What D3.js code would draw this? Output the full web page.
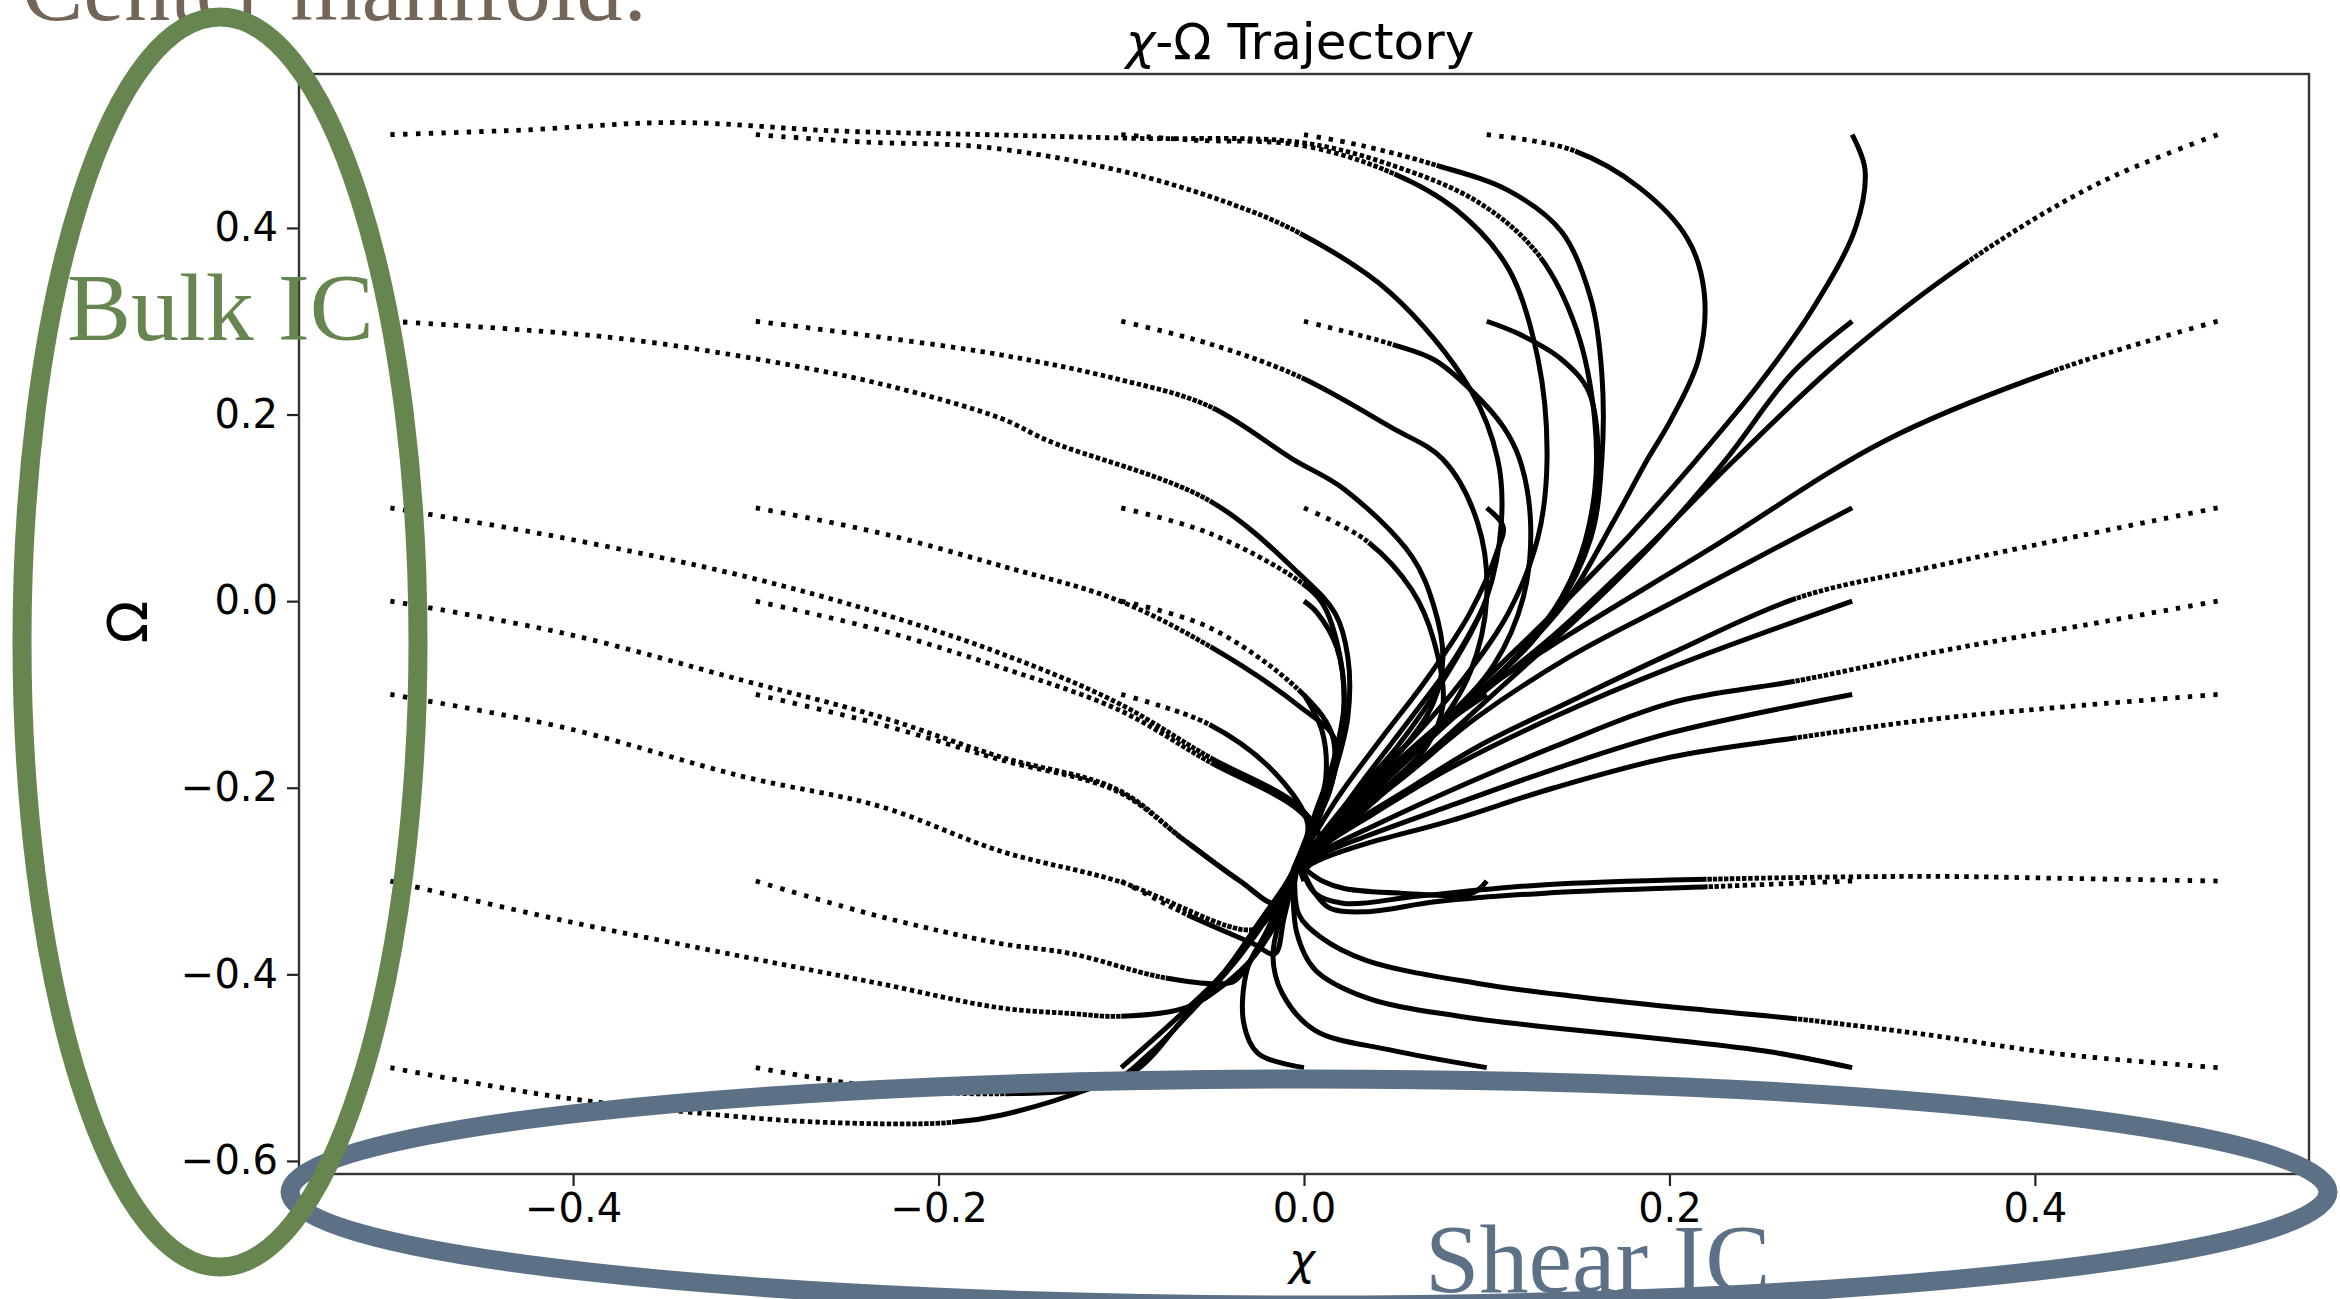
<!DOCTYPE html>
<html>
<head>
<meta charset="utf-8">
<script src="https://cdn.jsdelivr.net/npm/d3@7"></script>
<style>
  html, body { margin: 0; padding: 0; background: #fff; }
  svg { display: block; }
</style>
</head>
<body>
<svg id="chart" width="2340" height="1299"></svg>
<script>
// axis ticks
const xTicks = [-0.4, -0.2, 0.0, 0.2, 0.4];
const yTicks = [-0.6, -0.4, -0.2, 0.0, 0.2, 0.4];

// trajectories [chi, Omega], one list per starting Omega,
// each ordered by starting chi: -0.5, -0.3, -0.1, 0.0, 0.1, 0.3, 0.5
const omega050 = [
  [[-0.5,0.5],[-0.427,0.505],[-0.344,0.513],[-0.256,0.504],[-0.174,0.5],[-0.092,0.496],[-0.003,0.492],[0.047,0.468],[0.095,0.428],[0.128,0.372],[0.149,0.292],[0.159,0.196],[0.159,0.116],[0.149,0.036],[0.128,-0.036],[0.095,-0.1],[0.059,-0.164],[0.026,-0.22],[-0.003,-0.283]],
  [[-0.3,0.5],[-0.24,0.492],[-0.177,0.487],[-0.102,0.462],[-0.043,0.428],[-0.003,0.395],[0.047,0.331],[0.091,0.227],[0.106,0.152],[0.108,0.084],[0.1,0.004],[0.079,-0.076],[0.051,-0.156],[0.022,-0.22],[-0.003,-0.283]],
  [[-0.1,0.5],[-0.06,0.494],[-0.003,0.489],[0.047,0.46],[0.083,0.42],[0.112,0.356],[0.128,0.26],[0.133,0.152],[0.128,0.068],[0.112,-0.012],[0.087,-0.084],[0.059,-0.148],[0.026,-0.212],[-0.001,-0.278]],
  [[0,0.5],[0.03,0.489],[0.071,0.468],[0.112,0.44],[0.141,0.396],[0.157,0.324],[0.163,0.244],[0.163,0.152],[0.157,0.068],[0.137,-0.012],[0.104,-0.084],[0.067,-0.148],[0.03,-0.212],[0.002,-0.275]],
  [[0.1,0.5],[0.146,0.484],[0.183,0.444],[0.21,0.388],[0.219,0.331],[0.216,0.26],[0.201,0.195],[0.188,0.152],[0.169,0.084],[0.145,0.004],[0.112,-0.068],[0.075,-0.132],[0.042,-0.188],[0.014,-0.244],[-0.003,-0.282]],
  [[0.3,0.5],[0.307,0.463],[0.302,0.401],[0.278,0.312],[0.248,0.23],[0.215,0.152],[0.177,0.068],[0.137,-0.012],[0.095,-0.092],[0.055,-0.172],[0.022,-0.236],[0.002,-0.275]],
  [[0.5,0.5],[0.435,0.448],[0.365,0.366],[0.294,0.259],[0.236,0.152],[0.185,0.052],[0.137,-0.036],[0.087,-0.116],[0.047,-0.188],[0.018,-0.239],[0.002,-0.275]]
];
const omega030 = [
  [[-0.5,0.3],[-0.381,0.283],[-0.307,0.262],[-0.232,0.233],[-0.166,0.196],[-0.14,0.172],[-0.052,0.108],[-0.003,0.03],[0.017,-0.013],[0.024,-0.06],[0.024,-0.124],[0.016,-0.188],[0.006,-0.244],[-0.004,-0.285]],
  [[-0.3,0.3],[-0.232,0.283],[-0.166,0.264],[-0.102,0.238],[-0.052,0.209],[-0.006,0.152],[0.022,0.12],[0.059,0.048],[0.071,-0.005],[0.076,-0.06],[0.071,-0.108],[0.055,-0.156],[0.03,-0.204],[0.01,-0.252],[-0.004,-0.285]],
  [[-0.1,0.3],[-0.052,0.276],[-0.003,0.241],[0.047,0.187],[0.076,0.152],[0.095,0.084],[0.1,0.004],[0.091,-0.076],[0.071,-0.14],[0.042,-0.196],[0.014,-0.252],[-0.003,-0.285]],
  [[0,0.3],[0.047,0.276],[0.071,0.259],[0.091,0.227],[0.109,0.187],[0.118,0.152],[0.124,0.084],[0.12,0.004],[0.104,-0.068],[0.075,-0.132],[0.042,-0.188],[0.014,-0.244],[-0.003,-0.28]],
  [[0.1,0.3],[0.118,0.286],[0.141,0.259],[0.156,0.224],[0.161,0.152],[0.157,0.084],[0.141,0.004],[0.112,-0.068],[0.079,-0.124],[0.047,-0.18],[0.018,-0.236],[-0.003,-0.28]],
  [[0.3,0.3],[0.267,0.244],[0.231,0.152],[0.194,0.068],[0.153,-0.012],[0.108,-0.092],[0.063,-0.172],[0.026,-0.236],[0.004,-0.275]],
  [[0.5,0.3],[0.412,0.248],[0.318,0.172],[0.223,0.057],[0.145,-0.036],[0.095,-0.1],[0.051,-0.172],[0.02,-0.233],[0.002,-0.275]]
];
const omega010 = [
  [[-0.5,0.1],[-0.406,0.068],[-0.307,0.027],[-0.232,-0.013],[-0.166,-0.056],[-0.102,-0.109],[-0.052,-0.167],[-0.003,-0.22],[0.009,-0.257],[0.001,-0.288]],
  [[-0.3,0.1],[-0.232,0.073],[-0.166,0.038],[-0.102,0.001],[-0.052,-0.048],[-0.003,-0.112],[0.017,-0.149],[0.014,-0.204],[0.002,-0.252],[-0.006,-0.288]],
  [[-0.1,0.1],[-0.052,0.073],[-0.003,0.022],[0.01,-0.002],[0.018,-0.044],[0.022,-0.108],[0.016,-0.172],[0.006,-0.228],[-0.004,-0.285]],
  [[0,0.1],[0.034,0.065],[0.059,0.012],[0.071,-0.042],[0.076,-0.112],[0.067,-0.156],[0.042,-0.204],[0.014,-0.252],[-0.003,-0.282]],
  [[0.1,0.1],[0.109,0.08],[0.106,0.055],[0.091,-0.012],[0.067,-0.084],[0.042,-0.148],[0.018,-0.212],[-0.003,-0.28]],
  [[0.3,0.1],[0.201,-0.002],[0.145,-0.06],[0.095,-0.124],[0.055,-0.188],[0.022,-0.239],[0.004,-0.275]],
  [[0.5,0.1],[0.412,0.065],[0.342,0.036],[0.271,0.004],[0.201,-0.056],[0.145,-0.108],[0.095,-0.156],[0.055,-0.204],[0.022,-0.244],[0.004,-0.272]]
];
const omega000 = [
  [[-0.5,0],[-0.406,-0.034],[-0.307,-0.085],[-0.232,-0.124],[-0.166,-0.167],[-0.102,-0.202],[-0.065,-0.257],[-0.035,-0.3],[-0.015,-0.324],[-0.005,-0.292]],
  [[-0.3,0],[-0.232,-0.031],[-0.166,-0.071],[-0.102,-0.116],[-0.052,-0.172],[-0.003,-0.224],[0.009,-0.257],[-0.001,-0.288]],
  [[-0.1,0],[-0.052,-0.028],[-0.003,-0.095],[0.015,-0.141],[0.016,-0.188],[0.007,-0.236],[-0.004,-0.285]],
  [[0,0],[0.007,-0.012],[0.018,-0.05],[0.022,-0.108],[0.018,-0.164],[0.008,-0.221],[-0.002,-0.271],[-0.005,-0.3]],
  [[0.1,0],[0.083,-0.06],[0.059,-0.124],[0.034,-0.188],[0.01,-0.252],[-0.003,-0.284]],
  [[0.3,0],[0.201,-0.071],[0.137,-0.124],[0.079,-0.18],[0.038,-0.228],[0.01,-0.263],[0,-0.282]],
  [[0.5,0],[0.412,-0.031],[0.342,-0.056],[0.271,-0.085],[0.201,-0.109],[0.137,-0.156],[0.079,-0.204],[0.038,-0.241],[0.01,-0.268],[0,-0.283]]
];
const omegaM010 = [
  [[-0.5,-0.1],[-0.406,-0.135],[-0.307,-0.188],[-0.232,-0.22],[-0.166,-0.268],[-0.102,-0.3],[-0.028,-0.352],[-0.017,-0.332],[-0.007,-0.296]],
  [[-0.3,-0.1],[-0.232,-0.132],[-0.166,-0.17],[-0.102,-0.204],[-0.065,-0.257],[-0.035,-0.3],[-0.015,-0.324],[-0.006,-0.29]],
  [[-0.1,-0.1],[-0.052,-0.132],[-0.016,-0.184],[0.002,-0.239],[-0.004,-0.285]],
  [[0,-0.1],[0.01,-0.14],[0.012,-0.188],[0.006,-0.236],[-0.004,-0.285]],
  [[0.1,-0.1],[0.071,-0.14],[0.042,-0.188],[0.018,-0.236],[0.002,-0.278]],
  [[0.3,-0.1],[0.201,-0.141],[0.137,-0.18],[0.079,-0.22],[0.034,-0.252],[0.01,-0.271],[0,-0.284]],
  [[0.5,-0.1],[0.412,-0.114],[0.342,-0.127],[0.271,-0.146],[0.201,-0.167],[0.137,-0.2],[0.079,-0.236],[0.034,-0.26],[0.01,-0.276],[0,-0.286]]
];
const omegaM030 = [
  [[-0.5,-0.3],[-0.406,-0.342],[-0.307,-0.381],[-0.232,-0.41],[-0.166,-0.436],[-0.127,-0.442],[-0.102,-0.445],[-0.065,-0.436],[-0.045,-0.413],[-0.027,-0.38],[-0.012,-0.332],[-0.005,-0.29]],
  [[-0.3,-0.3],[-0.232,-0.338],[-0.166,-0.367],[-0.127,-0.378],[-0.078,-0.403],[-0.047,-0.41],[-0.038,-0.407],[-0.023,-0.364],[-0.011,-0.316],[-0.005,-0.288]],
  [[-0.1,-0.3],[-0.065,-0.335],[-0.028,-0.367],[-0.016,-0.378],[-0.011,-0.34],[-0.005,-0.29]],
  [[0,-0.3],[-0.003,-0.285]],
  [[0.1,-0.3],[0.092,-0.313],[0.053,-0.313],[0.022,-0.308],[0.01,-0.3],[-0.001,-0.285]],
  [[0.3,-0.3],[0.223,-0.306],[0.132,-0.313],[0.073,-0.322],[0.033,-0.333],[0.014,-0.329],[0.006,-0.313],[-0.001,-0.287]],
  [[0.5,-0.3],[0.412,-0.297],[0.342,-0.295],[0.223,-0.298],[0.132,-0.304],[0.063,-0.316],[0.022,-0.324],[0.006,-0.313],[-0.001,-0.288]]
];
const omegaM050 = [
  [[-0.5,-0.5],[-0.406,-0.532],[-0.307,-0.553],[-0.257,-0.559],[-0.195,-0.559],[-0.166,-0.551],[-0.115,-0.521],[-0.09,-0.5],[-0.068,-0.452],[-0.043,-0.396],[-0.023,-0.34],[-0.008,-0.3],[-0.004,-0.283]],
  [[-0.3,-0.5],[-0.232,-0.521],[-0.166,-0.528],[-0.107,-0.517],[-0.084,-0.484],[-0.06,-0.436],[-0.035,-0.38],[-0.015,-0.324],[-0.005,-0.288]],
  [[-0.1,-0.5],[-0.068,-0.444],[-0.043,-0.396],[-0.023,-0.34],[-0.009,-0.3],[-0.004,-0.28]],
  [[0,-0.5],[-0.025,-0.485],[-0.033,-0.452],[-0.031,-0.394],[-0.021,-0.356],[-0.009,-0.308],[-0.004,-0.287]],
  [[0.1,-0.5],[0.047,-0.481],[0.006,-0.46],[-0.012,-0.42],[-0.017,-0.38],[-0.012,-0.332],[-0.006,-0.29]],
  [[0.3,-0.5],[0.255,-0.483],[0.2,-0.47],[0.14,-0.458],[0.085,-0.445],[0.034,-0.425],[0.006,-0.395],[-0.004,-0.355],[-0.006,-0.29]],
  [[0.5,-0.5],[0.412,-0.485],[0.342,-0.465],[0.271,-0.448],[0.212,-0.437],[0.15,-0.424],[0.096,-0.41],[0.034,-0.385],[0.009,-0.36],[-0.003,-0.335],[-0.005,-0.29]]
];

// index of the point where each trajectory slows down (dots merge into a solid line)
const slow050  = [9, 5, 3, 2, 1, 0, 2];
const slow030  = [6, 4, 2, 1, 0, 0, 1];
const slow010  = [6, 4, 2, 1, 0, 0, 3];
const slow000  = [6, 4, 2, 0, 0, 0, 3];
const slowM010 = [6, 4, 1, 0, 0, 0, 3];
const slowM030 = [6, 4, 1, 0, 0, 1, 3];
const slowM050 = [4, 2, 0, 0, 0, 0, 3];

const rows = [
  [omega050, slow050], [omega030, slow030], [omega010, slow010], [omega000, slow000],
  [omegaM010, slowM010], [omegaM030, slowM030], [omegaM050, slowM050]
];

const svg = d3.select("#chart");
const plotLeft = 299, plotRight = 2309, plotTop = 74, plotBottom = 1174;

const x = d3.scaleLinear().domain([-0.55, 0.55]).range([plotLeft, plotRight]);
const y = d3.scaleLinear().domain([-0.614, 0.565]).range([plotBottom, plotTop]);

const fmt = d => d.toFixed(1).replace("-", "\u2212");

// trajectories
const g = svg.append("g");
const line = d3.line()
  .x(d => x(d[0]))
  .y(d => y(d[1]))
  .curve(d3.curveCatmullRom.alpha(0.5));

function drawTrajectory(pts, slow) {
  const d = line(pts);
  const tmp = g.append("path").attr("d", d);
  const L = tmp.node().getTotalLength();
  tmp.remove();

  let Ls = 0;
  if (slow > 0) {
    const part = g.append("path").attr("d", line(pts.slice(0, slow + 1)));
    Ls = part.node().getTotalLength();
    part.remove();
  }

  // sparse dots while the state moves fast, gaps shrink as it slows
  let s = 0;
  if (Ls > 0) {
    const dash = 4.4, g0 = 8.5;
    const parts = [];
    while (s < Ls) {
      const gap = 0.8 + (g0 - 0.8) * Math.pow(1 - s / Ls, 0.8);
      parts.push(dash, gap);
      s += dash + gap;
    }
    parts.push(0, L + 100);
    g.append("path")
      .attr("d", d)
      .attr("fill", "none")
      .attr("stroke", "#000")
      .attr("stroke-width", 4.8)
      .attr("stroke-dasharray", parts.join(" "));
  }

  g.append("path")
    .attr("d", d)
    .attr("fill", "none")
    .attr("stroke", "#000")
    .attr("stroke-width", 5)
    .attr("stroke-linejoin", "round")
    .attr("stroke-dasharray", s > 0 ? `0 ${s} ${L + 100}` : null);
}

rows.forEach(([trajs, slows]) => {
  trajs.forEach((pts, i) => drawTrajectory(pts, slows[i]));
});

// axes
const xAxis = svg.append("g")
  .attr("transform", `translate(0,${plotBottom})`)
  .call(d3.axisBottom(x).tickValues(xTicks).tickSize(12).tickPadding(8).tickFormat(fmt));
const yAxis = svg.append("g")
  .attr("transform", `translate(${plotLeft},0)`)
  .call(d3.axisLeft(y).tickValues(yTicks).tickSize(12).tickPadding(9).tickFormat(fmt));

[xAxis, yAxis].forEach(a => {
  a.select(".domain").remove();
  a.selectAll(".tick line").attr("stroke", "#222").attr("stroke-width", 2.2);
  a.selectAll(".tick text")
    .attr("fill", "#000")
    .style("font-family", "'DejaVu Sans', sans-serif")
    .style("font-size", "40px");
});

svg.append("rect")
  .attr("x", plotLeft).attr("y", plotTop)
  .attr("width", plotRight - plotLeft).attr("height", plotBottom - plotTop)
  .attr("fill", "none")
  .attr("stroke", "#333")
  .attr("stroke-width", 2.4);

// title and axis labels
const title = svg.append("text")
  .attr("x", 1300).attr("y", 59)
  .attr("text-anchor", "middle")
  .style("font-family", "'DejaVu Sans', sans-serif")
  .style("font-size", "50px");
title.append("tspan").style("font-style", "italic").text("\u03c7");
title.append("tspan").text("-\u03a9 Trajectory");

svg.append("text")
  .attr("x", 1302).attr("y", 1275)
  .attr("text-anchor", "middle")
  .style("font-family", "'DejaVu Sans', sans-serif")
  .style("font-style", "italic")
  .style("font-size", "44px")
  .text("\u03c7");

svg.append("text")
  .attr("transform", "translate(147,622) rotate(-90)")
  .attr("text-anchor", "middle")
  .style("font-family", "'DejaVu Sans', sans-serif")
  .style("font-size", "56px")
  .text("\u03a9");

// slide annotations
const serif = "'Liberation Serif', 'DejaVu Serif', serif";

svg.append("text")
  .attr("x", 22).attr("y", 20)
  .style("font-family", serif)
  .style("font-size", "92px")
  .attr("fill", "#736658")
  .text("Center manifold:");

svg.append("ellipse")
  .attr("cx", 1309).attr("cy", 1192)
  .attr("rx", 1019).attr("ry", 113)
  .attr("fill", "none")
  .attr("stroke", "#5d7186")
  .attr("stroke-width", 19);

svg.append("ellipse")
  .attr("cx", 220).attr("cy", 642)
  .attr("rx", 198).attr("ry", 625)
  .attr("fill", "none")
  .attr("stroke", "#66854f")
  .attr("stroke-width", 19);

svg.append("text")
  .attr("x", 67).attr("y", 340)
  .style("font-family", serif)
  .style("font-size", "96px")
  .attr("fill", "#66854f")
  .text("Bulk IC");

svg.append("text")
  .attr("x", 1425).attr("y", 1292)
  .style("font-family", serif)
  .style("font-size", "98px")
  .attr("fill", "#5d7186")
  .text("Shear IC");
</script>
</body>
</html>
